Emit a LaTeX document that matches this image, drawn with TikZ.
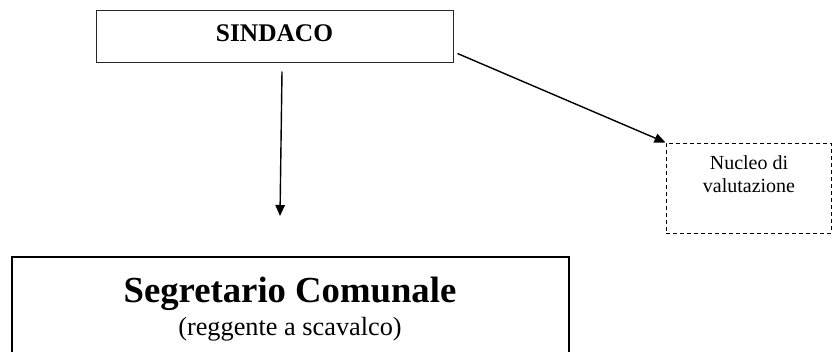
\documentclass[tikz,border=0pt]{standalone}
\usepackage{fontspec}
\setmainfont{Liberation Serif}
\usetikzlibrary{arrows.meta}
\begin{document}
\begin{tikzpicture}[x=1pt,y=-1pt,
  thinbox/.style={draw=black!85,line width=1pt,minimum width=357pt,minimum height=52pt,inner sep=0pt},
  dashbox/.style={draw=black,line width=1pt,dash pattern=on 4pt off 3pt,minimum width=165pt,minimum height=90pt,inner sep=0pt},
  thickbox/.style={draw=black,line width=2pt,minimum width=557pt,minimum height=120pt,inner sep=0pt},
  arr/.style={line width=1.4pt,-{Triangle[length=11pt,width=9.5pt]}},
  txt/.style={anchor=base,inner sep=0pt}
]
\useasboundingbox (0,0) rectangle (832,351);
\clip (0,0) rectangle (832,351);
% nodes
\node[thinbox] (sindaco) at (274.5,36) {};
\node[txt,font=\fontsize{25.4}{30}\selectfont\bfseries] (sindacotext) at (274.5,41) {SINDACO};
\node[dashbox] (nucleo) at (748.5,188) {};
\node[txt,font=\fontsize{20}{23}\selectfont] (nucleo1) at (749,169) {Nucleo di};
\node[txt,font=\fontsize{20}{23}\selectfont] (nucleo2) at (749,192) {valutazione};
\node[thickbox] (segr) at (290.5,317) {};
\node[txt,font=\fontsize{36.7}{40}\selectfont\bfseries] (segrtitle) at (290,302) {Segretario Comunale};
\node[txt,font=\fontsize{26.3}{30}\selectfont] (segrsub) at (290,335) {(reggente a scavalco)};
% connectors
\coordinate (v1) at ([shift={(7.5,9)}]sindaco.south);
\coordinate (v2) at ([shift={(-10.5,-40)}]segr.north);
\draw[arr] (v1) -- (v2);
\coordinate (d1) at ([shift={(4,-9)}]sindaco.south east);
\draw[arr] (d1) -- (nucleo.north west);
\end{tikzpicture}
\end{document}
